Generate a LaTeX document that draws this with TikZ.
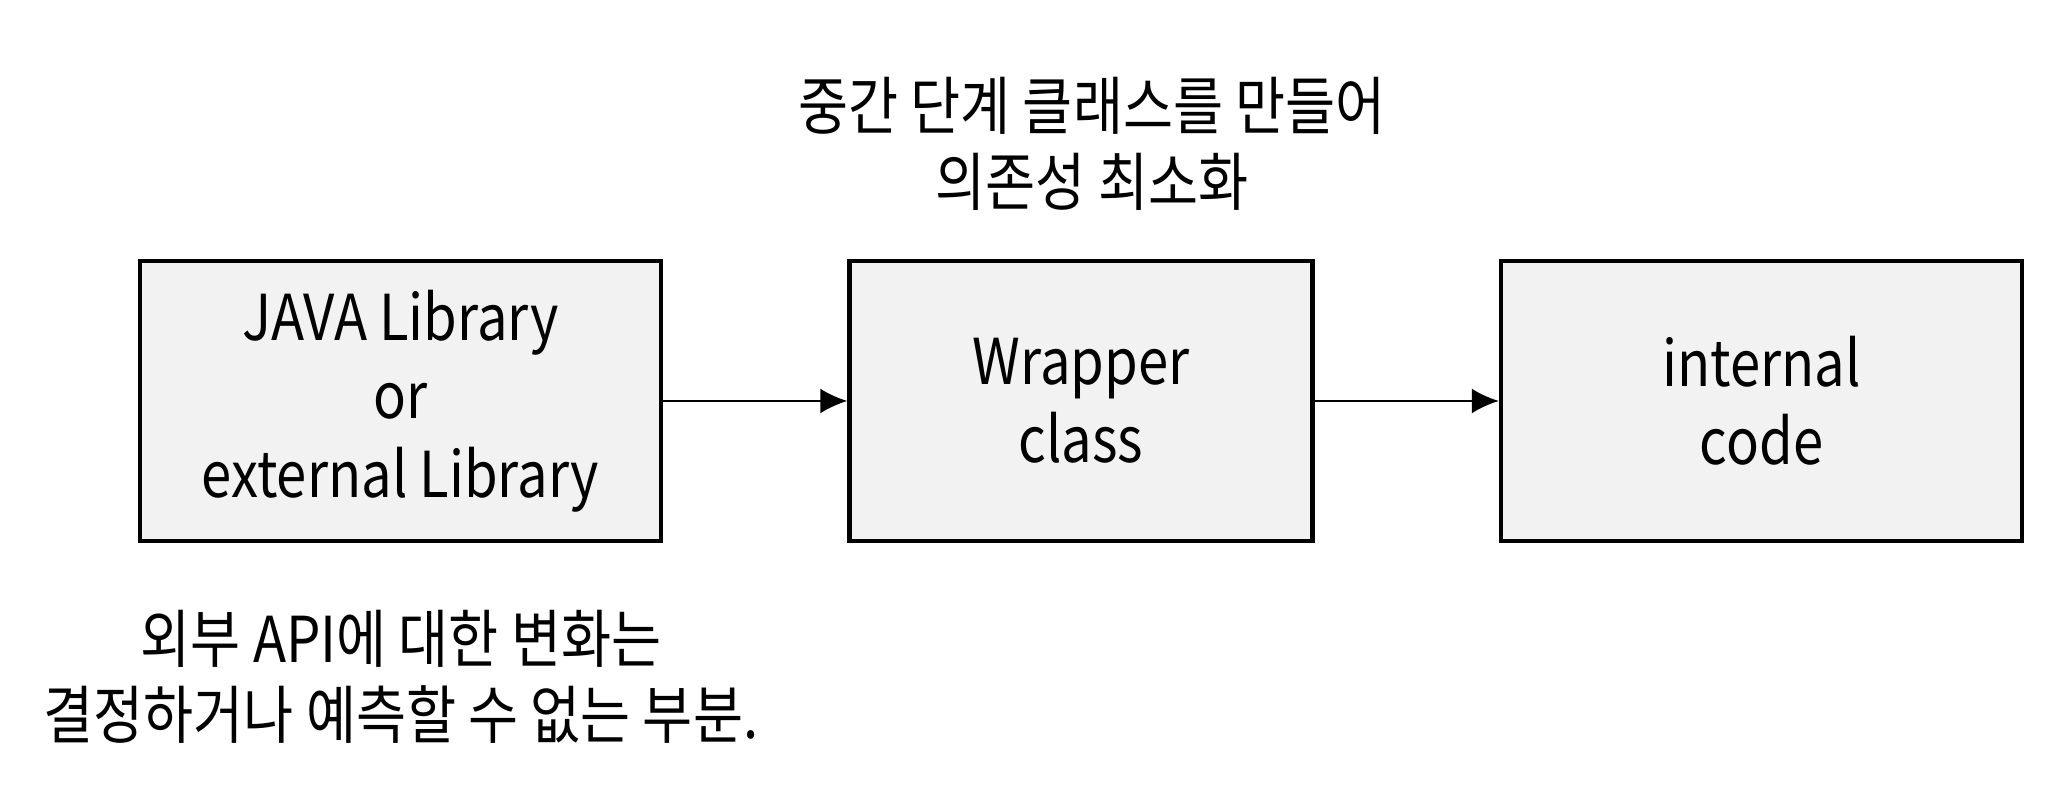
\documentclass[tikz,border=0pt]{standalone}
\usepackage{fontspec}
\setmainfont{Noto Sans CJK KR}[FakeStretch=0.86]
\usepackage{tikz}
\usetikzlibrary{positioning, arrows.meta}
\definecolor{boxgray}{HTML}{F2F2F2}
\tikzset{block/.style={draw, line width=0.045cm, fill=boxgray, minimum height=2.80cm, align=center, font=\fontsize{18}{22.3}\selectfont}}
\tikzset{link/.style={-{Latex[length=0.27cm, width=0.25cm]}, line width=0.6pt}}

\begin{document}
\begin{tikzpicture}[font=\fontsize{18}{21.5}\selectfont, node distance=1.84cm]
            \useasboundingbox (0, 0) rectangle (20.58, -7.92);
            \node[block, minimum width=5.21cm] (lib) at (4.005, -4.01) {JAVA Library\\or\\external Library};
            \node[block, minimum width=4.63cm, right=of lib] (wrap) {Wrapper\\class};
            \node[block, minimum width=5.21cm, right=of wrap] (code) {internal\\code};
            \draw[link] (lib) -- (wrap);
            \draw[link] (wrap) -- (code);
            \node[align=center] (wrapnote) at (10.92, -1.44) {중간 단계 클래스를 만들어\\의존성 최소화};
            \node[align=center] (libnote) at (4.01, -6.77) {외부 API에 대한 변화는\\결정하거나 예측할 수 없는 부분.};
        \end{tikzpicture}
\end{document}
